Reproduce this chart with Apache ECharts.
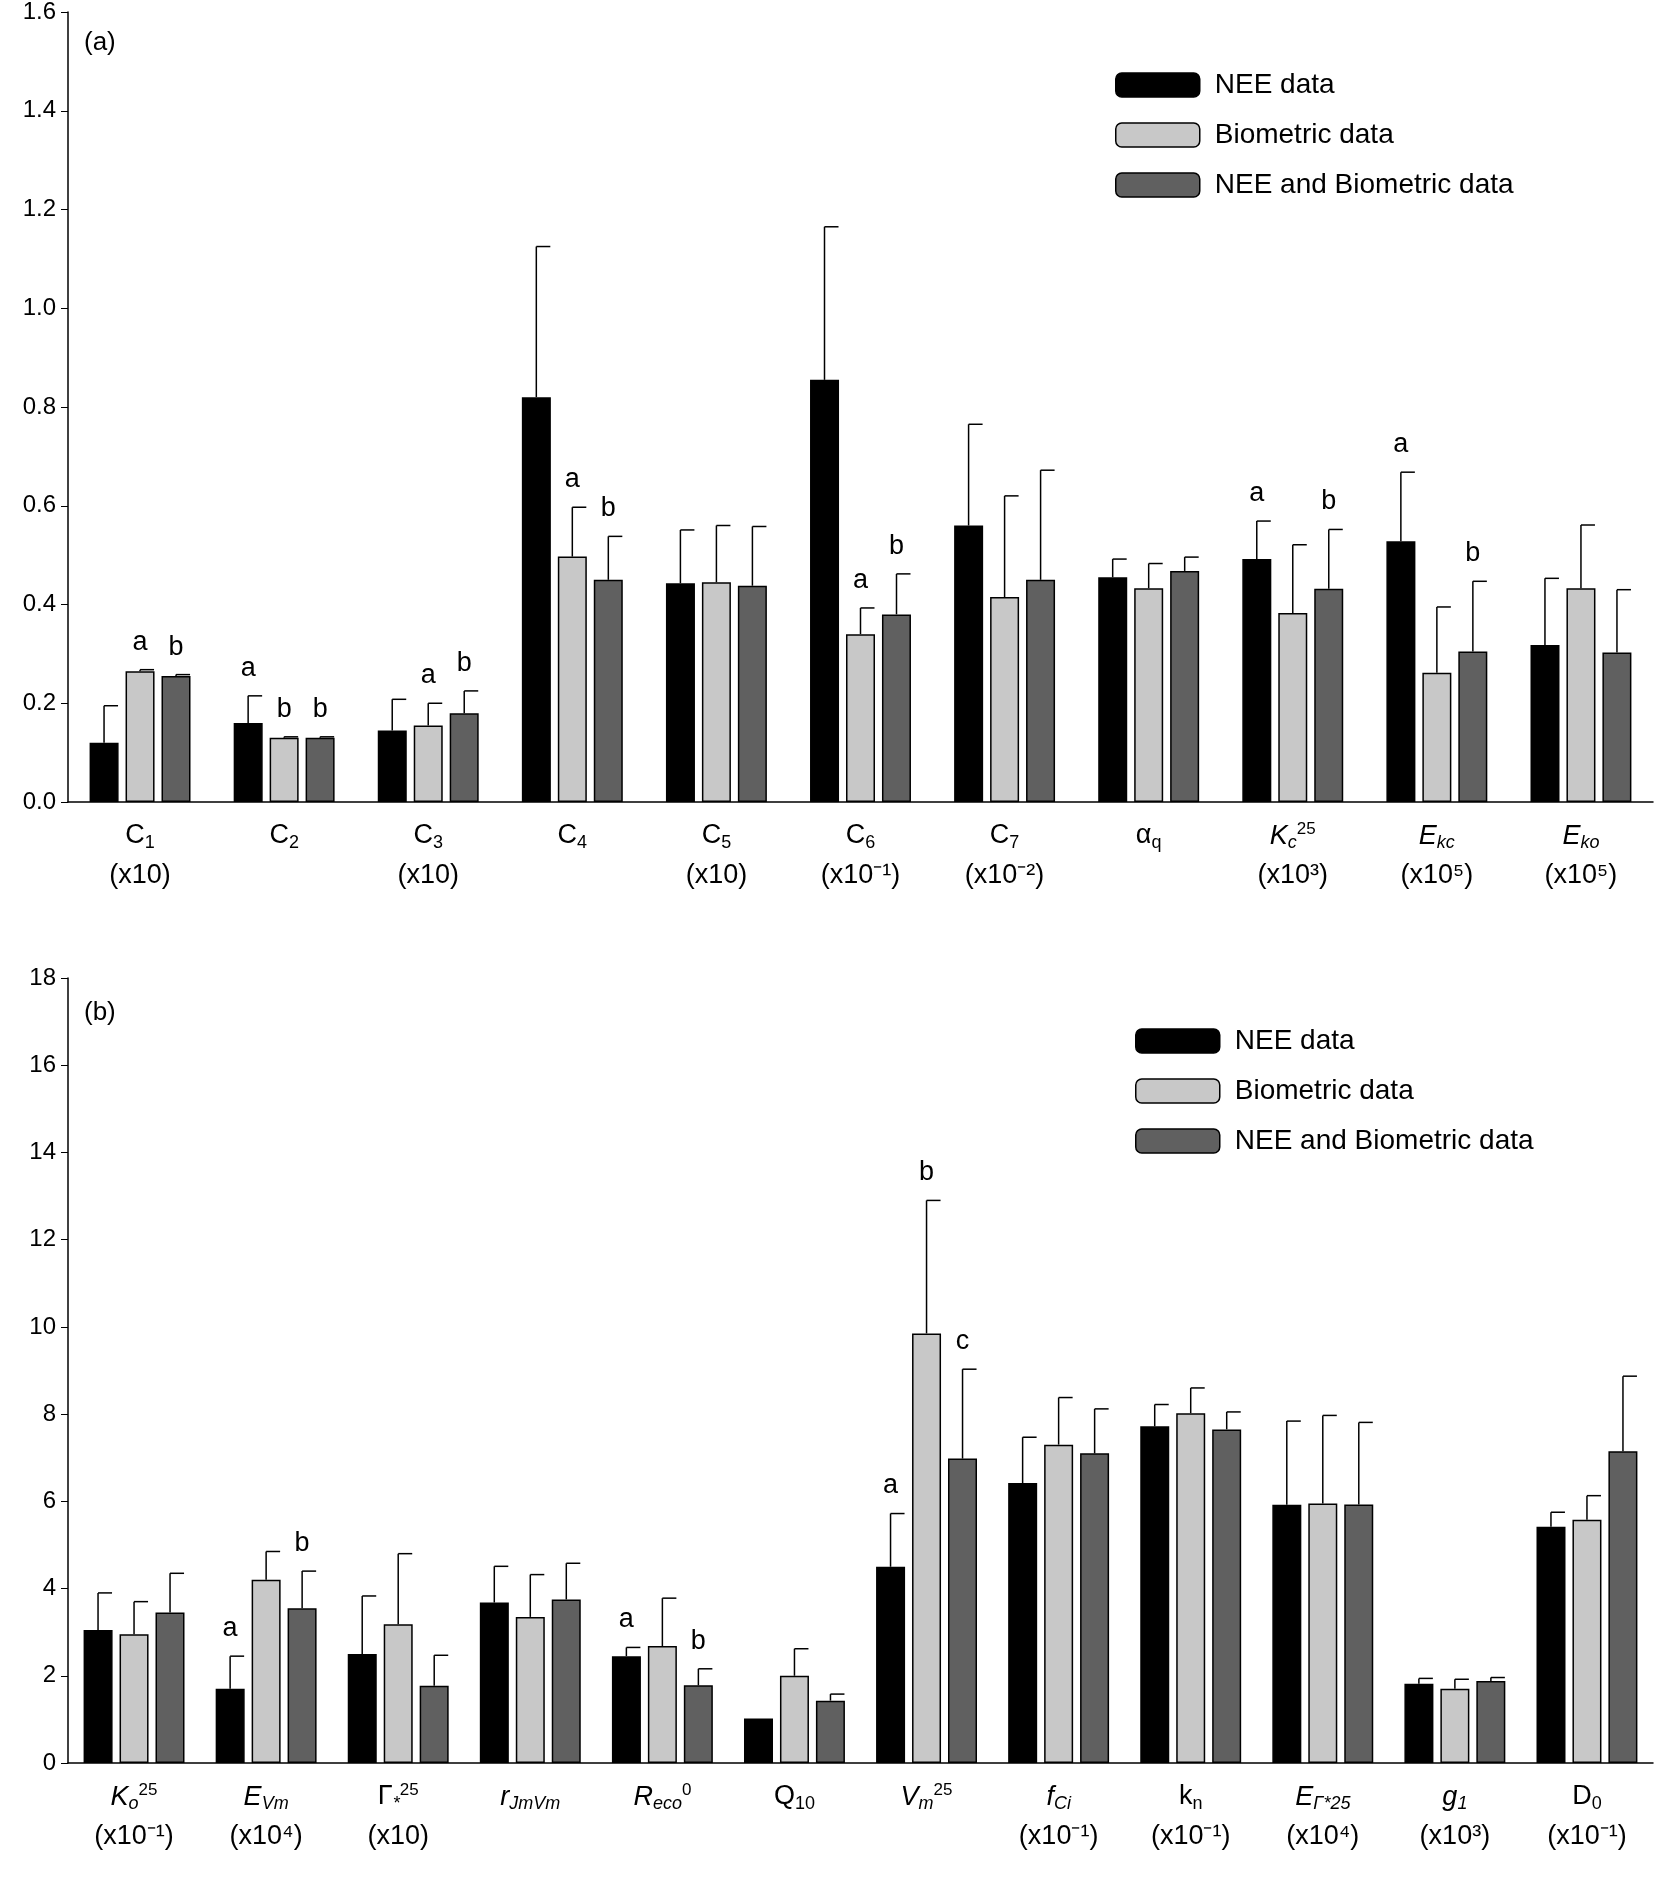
<!DOCTYPE html>
<html><head><meta charset="utf-8">
<script src="https://cdn.jsdelivr.net/npm/echarts@6/dist/echarts.min.js"></script>
<style>html,body{margin:0;background:#fff}#main{width:1655px;height:1882px}</style>
</head><body><div id="main"></div>
<script>
// Panel (a)
const catsA = ['C1','C2','C3','C4','C5','C6','C7','aq','Kc','Ekc','Eko'];
const labelsA = [
  'C{sub|1}\n(x10)', 'C{sub|2}\n ', 'C{sub|3}\n(x10)', 'C{sub|4}\n ', 'C{sub|5}\n(x10)',
  'C{sub|6}\n(x10⁻¹)', 'C{sub|7}\n(x10⁻²)', 'α{sub|q}\n ', '{it|K}{subi|c}{sup|25}\n(x10³)',
  '{it|E}{subi|kc}\n(x10⁵)', '{it|E}{subi|ko}\n(x10⁵)'
];
const neeA = [0.12, 0.16, 0.145, 0.82, 0.443, 0.855, 0.56, 0.455, 0.492, 0.528, 0.318];
const neeAErr = [0.075, 0.055, 0.063, 0.305, 0.108, 0.31, 0.205, 0.037, 0.077, 0.14, 0.135];
const bioA = [0.265, 0.13, 0.155, 0.497, 0.445, 0.34, 0.415, 0.433, 0.383, 0.262, 0.433];
const bioAErr = [0.003, 0.002, 0.045, 0.1, 0.115, 0.053, 0.205, 0.05, 0.138, 0.133, 0.128];
const bothA = [0.255, 0.13, 0.18, 0.45, 0.438, 0.38, 0.45, 0.468, 0.432, 0.305, 0.303];
const bothAErr = [0.003, 0.002, 0.045, 0.088, 0.12, 0.082, 0.222, 0.028, 0.12, 0.142, 0.127];
const neeALet = ['', 'a', '', '', '', '', '', '', 'a', 'a', ''];
const bioALet = ['a', 'b', 'a', 'a', '', 'a', '', '', '', '', ''];
const bothALet = ['b', 'b', 'b', 'b', '', 'b', '', '', 'b', 'b', ''];

// Panel (b)
const catsB = ['Ko','EVm','G','rJ','Reco','Q10','Vm','fCi','kn','EG','g1','D0'];
const labelsB = [
  '{it|K}{subi|o}{sup|25}\n(x10⁻¹)', '{it|E}{subi|Vm}\n(x10⁴)', 'Γ{subi|*}{sup|25}\n(x10)',
  '{it|r}{subi|JmVm}\n ', '{it|R}{subi|eco}{sup|0}\n ', 'Q{sub|10}\n ', '{it|V}{subi|m}{sup|25}\n ',
  '{it|f}{subi|Ci}\n(x10⁻¹)', 'k{sub|n}\n(x10⁻¹)', '{it|E}{subi|Γ*25}\n(x10⁴)',
  '{it|g}{subi|1}\n(x10³)', 'D{sub|0}\n(x10⁻¹)'
];
const neeB = [3.05, 1.7, 2.5, 3.68, 2.45, 1.02, 4.5, 6.42, 7.72, 5.92, 1.82, 5.42];
const neeBErr = [0.85, 0.75, 1.33, 0.83, 0.2, 0, 1.22, 1.05, 0.5, 1.92, 0.12, 0.33];
const bioB = [2.95, 4.2, 3.18, 3.35, 2.68, 2.0, 9.85, 7.3, 8.02, 5.95, 1.7, 5.58];
const bioBErr = [0.75, 0.65, 1.62, 0.97, 1.1, 0.62, 3.05, 1.08, 0.58, 2.02, 0.22, 0.55];
const bothB = [3.45, 3.55, 1.77, 3.75, 1.78, 1.43, 6.98, 7.1, 7.65, 5.93, 1.88, 7.15];
const bothBErr = [0.9, 0.85, 0.7, 0.83, 0.38, 0.15, 2.05, 1.02, 0.4, 1.88, 0.08, 1.72];
const neeBLet = ['', 'a', '', '', 'a', '', 'a', '', '', '', '', ''];
const bioBLet = ['', '', '', '', '', '', 'b', '', '', '', '', ''];
const bothBLet = ['', 'b', '', '', 'b', '', 'c', '', '', '', '', ''];

const names = ['NEE data', 'Biometric data', 'NEE and Biometric data'];
const colors = ['#000000', '#c8c8c8', '#606060'];
const FONT = 'Liberation Sans, Arial, sans-serif';
const BW = 29, STEP = 36;

const rich = {
  sub: { fontSize: 18, padding: [14, 0, 0, 0], fontFamily: FONT, color: '#000' },
  subi: { fontSize: 18, fontStyle: 'italic', padding: [14, 0, 0, 0], fontFamily: FONT, color: '#000' },
  sup: { fontSize: 17, padding: [0, 0, 14, 0], fontFamily: FONT, color: '#000' },
  it: { fontSize: 27, fontStyle: 'italic', fontFamily: FONT, color: '#000' }
};

function errSeries(gi, k, cats, vals, errs, lets) {
  return {
    type: 'custom', xAxisIndex: gi, yAxisIndex: gi, z: 5, silent: true,
    data: cats.map((c, i) => [i, vals[i], errs[i], lets[i]]),
    encode: { x: 0, y: 1 },
    renderItem: function (params, api) {
      const i = api.value(0), v = api.value(1), e = api.value(2);
      const p0 = api.coord([i, v]), p1 = api.coord([i, v + e]);
      const x = p0[0] + (k - 1) * STEP;
      const ch = [];
      if (e > 0) {
        ch.push({ type: 'line', shape: { x1: x, y1: p0[1], x2: x, y2: p1[1] }, style: { stroke: '#000', lineWidth: 1.5 } });
        ch.push({ type: 'line', shape: { x1: x, y1: p1[1], x2: x + 14, y2: p1[1] }, style: { stroke: '#000', lineWidth: 1.5 } });
      }
      const t = lets[params.dataIndex];
      if (t) ch.push({ type: 'text', style: { text: t, x: x, y: p1[1] - 14, align: 'center', verticalAlign: 'bottom', font: '27px ' + FONT, fill: '#000' } });
      return { type: 'group', children: ch };
    }
  };
}
function barSeries(gi, k, vals) {
  return {
    name: names[k], type: 'bar', xAxisIndex: gi, yAxisIndex: gi, data: vals,
    barWidth: BW, barGap: '24%',
    itemStyle: { color: colors[k], borderColor: '#000', borderWidth: 1.5 }
  };
}
function xAxis(gi, cats, labels) {
  return {
    type: 'category', gridIndex: gi, data: cats,
    axisLine: { lineStyle: { color: '#000', width: 1.5 } },
    axisTick: { alignWithLabel: true, length: 7, lineStyle: { color: '#000' } },
    axisLabel: {
      interval: 0, color: '#000', fontSize: 27, fontFamily: FONT, lineHeight: 40, margin: 14,
      formatter: (v, i) => labels[i], rich: rich
    }
  };
}
function yAxis(gi, max, interval, dec) {
  return {
    type: 'value', gridIndex: gi, min: 0, max: max, interval: interval,
    splitLine: { show: false },
    axisLine: { show: true, lineStyle: { color: '#000', width: 1.5 } },
    axisTick: { show: true, length: 7, lineStyle: { color: '#000' } },
    axisLabel: { color: '#000', fontSize: 24, fontFamily: FONT, margin: 12, formatter: v => v.toFixed(dec) }
  };
}
function legend(gi, left, top) {
  return {
    orient: 'vertical', left: left, top: top, itemWidth: 84, itemHeight: 24, itemGap: 22,
    data: names.map(n => ({ name: n })), selectedMode: false,
    textStyle: { fontSize: 28, fontFamily: FONT, color: '#000', padding: [0, 0, 0, 10] },
    itemStyle: { borderColor: '#000', borderWidth: 1.5 }
  };
}

const chart = echarts.init(document.getElementById('main'));
chart.setOption({
  animation: false,
  grid: [
    { left: 68, right: 2, top: 12, height: 790 },
    { left: 68, right: 2, top: 978, height: 785 }
  ],
  xAxis: [xAxis(0, catsA, labelsA), xAxis(1, catsB, labelsB)],
  yAxis: [yAxis(0, 1.6, 0.2, 1), yAxis(1, 18, 2, 0)],
  legend: [legend(0, 1110, 66), legend(1, 1130, 1022)],
  graphic: [
    { type: 'text', left: 84, top: 30, style: { text: '(a)', font: '26px ' + FONT, fill: '#000' } },
    { type: 'text', left: 84, top: 1000, style: { text: '(b)', font: '26px ' + FONT, fill: '#000' } }
  ],
  series: [
    barSeries(0, 0, neeA), barSeries(0, 1, bioA), barSeries(0, 2, bothA),
    errSeries(0, 0, catsA, neeA, neeAErr, neeALet),
    errSeries(0, 1, catsA, bioA, bioAErr, bioALet),
    errSeries(0, 2, catsA, bothA, bothAErr, bothALet),
    barSeries(1, 0, neeB), barSeries(1, 1, bioB), barSeries(1, 2, bothB),
    errSeries(1, 0, catsB, neeB, neeBErr, neeBLet),
    errSeries(1, 1, catsB, bioB, bioBErr, bioBLet),
    errSeries(1, 2, catsB, bothB, bothBErr, bothBLet)
  ]
});
</script></body></html>
